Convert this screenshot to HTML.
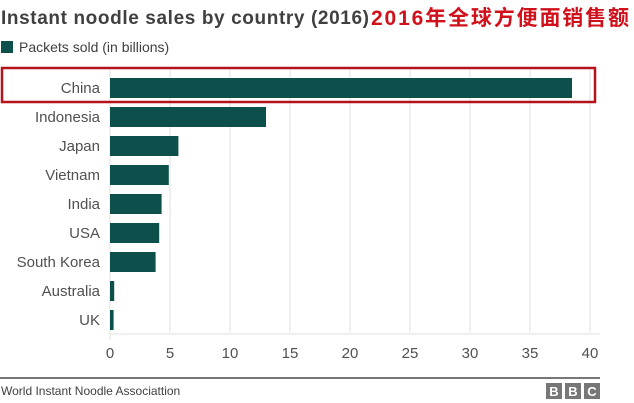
<!DOCTYPE html>
<html><head><meta charset="utf-8"><style>
body{margin:0;width:634px;height:403px;background:#fff;overflow:hidden;font-family:"Liberation Sans",sans-serif}
svg{display:block}
</style></head><body>
<svg width="634" height="403" id="chart">
<text x="1" y="24" font-size="19" font-weight="bold" fill="#404040" textLength="368">Instant noodle sales by country (2016)</text>
<text x="371" y="25" font-size="21" font-weight="bold" fill="#d0111b" font-family="'Liberation Sans','Noto Sans CJK SC',sans-serif" textLength="258">2016年全球方便面销售额</text>
<rect x="1" y="41" width="12" height="12" fill="#0d4f4b"/>
<text x="19" y="52" font-size="14" fill="#404040">Packets sold (in billions)</text>
<g id="grid"></g><g id="bars"></g><g id="labels"></g><g id="ticks"></g>
<rect x="2" y="68" width="593" height="34" fill="none" stroke="#b5121b" stroke-width="2.5"/>
<rect x="0" y="377" width="600" height="2" fill="#777"/>
<text x="1" y="395" font-size="12" fill="#404040">World Instant Noodle Associattion</text>
<g>
<rect x="546" y="383" width="16" height="16" fill="#777"/><rect x="565" y="383" width="16" height="16" fill="#777"/><rect x="584" y="383" width="16" height="16" fill="#777"/>
<text x="554" y="396" font-size="13" font-weight="bold" fill="#fff" text-anchor="middle">B</text>
<text x="573" y="396" font-size="13" font-weight="bold" fill="#fff" text-anchor="middle">B</text>
<text x="592" y="396" font-size="13" font-weight="bold" fill="#fff" text-anchor="middle">C</text>
</g>
</svg>
<script>
const categories=["China","Indonesia","Japan","Vietnam","India","USA","South Korea","Australia","UK"];
const values=[38.5,13.0,5.7,4.9,4.3,4.1,3.8,0.35,0.3];
const tickValues=[0,5,10,15,20,25,30,35,40];
const NS="http://www.w3.org/2000/svg";
const x0=110,pxPer=12,yTop=74,step=29,barH=20;
const x=v=>x0+v*pxPer;
const y=i=>yTop+i*step;
function mk(t,a,p){const e=document.createElementNS(NS,t);for(const k in a)e.setAttribute(k,a[k]);p.appendChild(e);return e;}
const grid=document.getElementById('grid'),bars=document.getElementById('bars'),labels=document.getElementById('labels'),ticks=document.getElementById('ticks');
tickValues.forEach(v=>{
 const l=mk('line',{x1:x(v),x2:x(v),y1:70,y2:v===0?340:333,stroke:'#e2e2e2','stroke-width':1},grid);
 
 
 const t=mk('text',{x:x(v),y:358,'font-size':15,fill:'#505050','text-anchor':'middle'},ticks);
 t.textContent=v;
 
 
});
const ax=mk('line',{x1:x0,x2:600,y1:334,y2:334,stroke:'#e2e2e2','stroke-width':1},grid);


categories.forEach((c,i)=>{
 const r=mk('rect',{x:x0,y:y(i)+4,width:Math.max(1,values[i]*pxPer),height:barH,fill:'#0d4f4b'},bars);
 
 
 const t=mk('text',{x:100,y:y(i)+19,'font-size':15,fill:'#505050','text-anchor':'end'},labels);
 t.textContent=c;
 
 
});
</script>
</body></html>
